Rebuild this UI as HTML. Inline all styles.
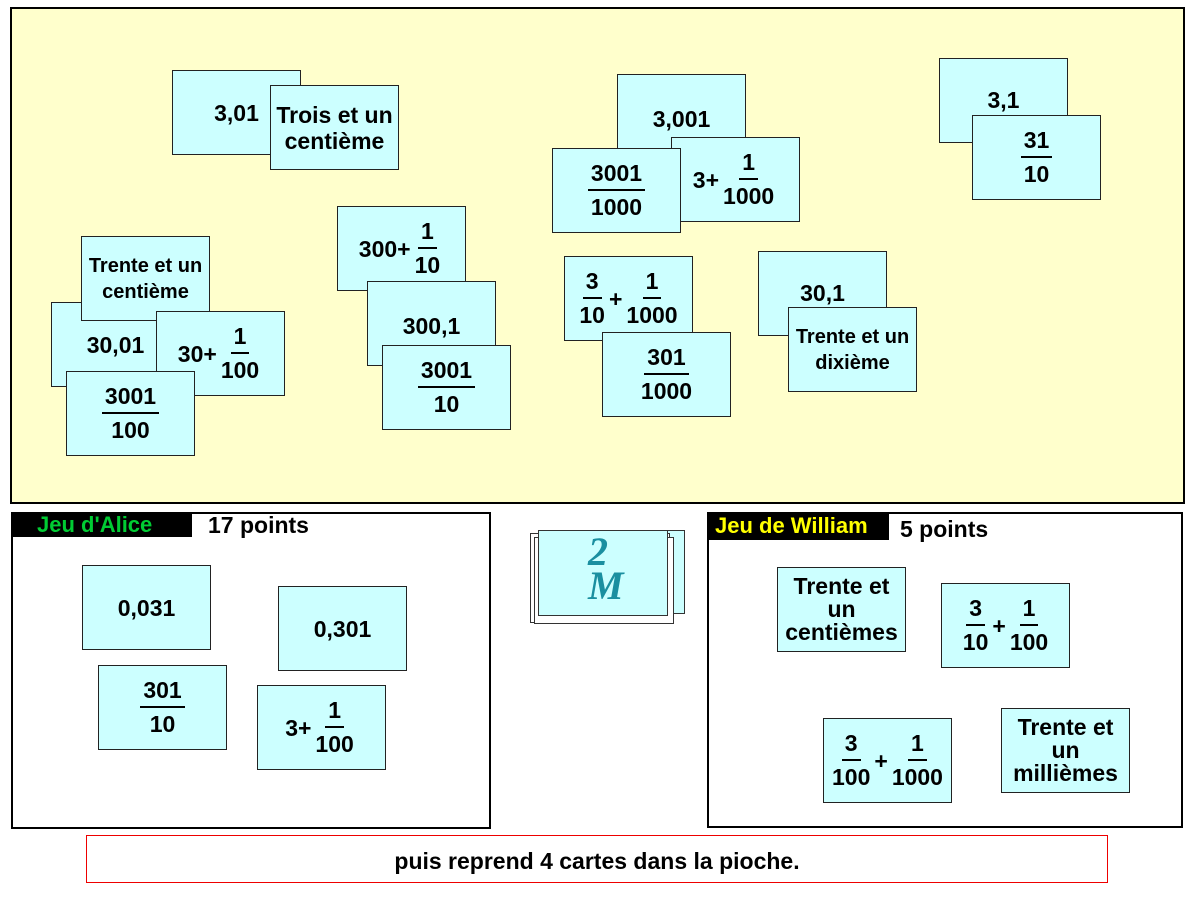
<!DOCTYPE html>
<html><head><meta charset="utf-8"><style>
body{margin:0;width:1200px;height:900px;background:#fff;position:relative;overflow:hidden;font-family:"Liberation Sans",sans-serif;font-weight:bold;}
.a{position:absolute;box-sizing:border-box}
.c{position:absolute;box-sizing:border-box;width:129px;height:85px;background:#ccffff;border:1.5px solid #222;display:flex;align-items:center;justify-content:center;text-align:center;font-size:23px;line-height:26px;color:#000;white-space:nowrap}
.f{display:inline-flex;flex-direction:column;align-items:center;vertical-align:middle;margin:0 1px}
.f span{display:block;padding:0 3px;line-height:33px}
.f span:first-child{border-bottom:2px solid #000;line-height:32px}
.r{display:flex;align-items:center}
</style></head><body>
<div class="a" style="left:10px;top:7px;width:1175px;height:497px;background:#ffffcc;border:2px solid #000"></div>

<div class="c" style="left:172px;top:70px;align-items:flex-start;padding-top:29px">3,01</div>
<div class="c" style="left:270px;top:85px">Trois et un<br>centième</div>
<div class="c" style="left:617px;top:74px;align-items:flex-start;padding-top:31px">3,001</div>
<div class="c" style="left:671px;top:137px"><div class="r">3+<div class="f"><span>1</span><span>1000</span></div></div></div>
<div class="c" style="left:552px;top:148px"><div class="f"><span>3001</span><span>1000</span></div></div>
<div class="c" style="left:939px;top:58px;align-items:flex-start;padding-top:28px">3,1</div>
<div class="c" style="left:972px;top:115px"><div class="f"><span>31</span><span>10</span></div></div>

<div class="c" style="left:51px;top:302px">30,01</div>
<div class="c" style="left:81px;top:236px;font-size:20px">Trente et un<br>centième</div>
<div class="c" style="left:156px;top:311px"><div class="r">30+<div class="f"><span>1</span><span>100</span></div></div></div>
<div class="c" style="left:66px;top:371px"><div class="f"><span>3001</span><span>100</span></div></div>

<div class="c" style="left:337px;top:206px"><div class="r">300+<div class="f"><span>1</span><span>10</span></div></div></div>
<div class="c" style="left:367px;top:281px;align-items:flex-start;padding-top:31px">300,1</div>
<div class="c" style="left:382px;top:345px"><div class="f"><span>3001</span><span>10</span></div></div>

<div class="c" style="left:564px;top:256px"><div class="r"><div class="f"><span>3</span><span>10</span></div>+<div class="f"><span>1</span><span>1000</span></div></div></div>
<div class="c" style="left:602px;top:332px"><div class="f"><span>301</span><span>1000</span></div></div>
<div class="c" style="left:758px;top:251px;align-items:flex-start;padding-top:28px">30,1</div>
<div class="c" style="left:788px;top:307px;font-size:20px">Trente et un<br>dixième</div>

<div class="a" style="left:11px;top:512px;width:480px;height:317px;border:2px solid #000"></div>
<div class="a" style="left:11px;top:512px;width:181px;height:25px;background:#000;color:#00cc33;font-size:22px;line-height:25px;padding-left:26px">Jeu d'Alice</div>
<div class="a" style="left:208px;top:513px;font-size:23px;line-height:25px">17 points</div>
<div class="c" style="left:82px;top:565px">0,031</div>
<div class="c" style="left:278px;top:586px">0,301</div>
<div class="c" style="left:98px;top:665px"><div class="f"><span>301</span><span>10</span></div></div>
<div class="c" style="left:257px;top:685px"><div class="r">3+<div class="f"><span>1</span><span>100</span></div></div></div>

<div class="a" style="left:545px;top:530px;width:140px;height:84px;background:#ccffff;border:1.5px solid #333"></div>
<div class="a" style="left:530px;top:533px;width:140px;height:90px;background:#fff;border:1.5px solid #333"></div>
<div class="a" style="left:534px;top:537px;width:140px;height:87px;background:#fff;border:1.5px solid #333"></div>
<div class="a" style="left:538px;top:530px;width:130px;height:86px;background:#ccffff;border:1.5px solid #333"></div>
<div class="a" style="left:588px;top:535px;font-family:'Liberation Serif',serif;color:#1a8fa0;font-size:40px;line-height:34px;font-style:italic">2<br>M</div>

<div class="a" style="left:707px;top:512px;width:476px;height:316px;border:2px solid #000"></div>
<div class="a" style="left:707px;top:512px;width:182px;height:28px;background:#000;color:#ffff00;font-size:22px;line-height:28px;padding-left:8px">Jeu de William</div>
<div class="a" style="left:900px;top:515px;font-size:23px;line-height:28px">5 points</div>
<div class="c" style="left:777px;top:567px;line-height:23px">Trente et<br>un<br>centièmes</div>
<div class="c" style="left:941px;top:583px"><div class="r"><div class="f"><span>3</span><span>10</span></div>+<div class="f"><span>1</span><span>100</span></div></div></div>
<div class="c" style="left:823px;top:718px"><div class="r"><div class="f"><span>3</span><span>100</span></div>+<div class="f"><span>1</span><span>1000</span></div></div></div>
<div class="c" style="left:1001px;top:708px;line-height:23px">Trente et<br>un<br>millièmes</div>

<div class="a" style="left:86px;top:835px;width:1022px;height:48px;border:1px solid #e00;text-align:center;line-height:50px;font-size:23px">puis reprend 4 cartes dans la pioche.</div>
</body></html>
